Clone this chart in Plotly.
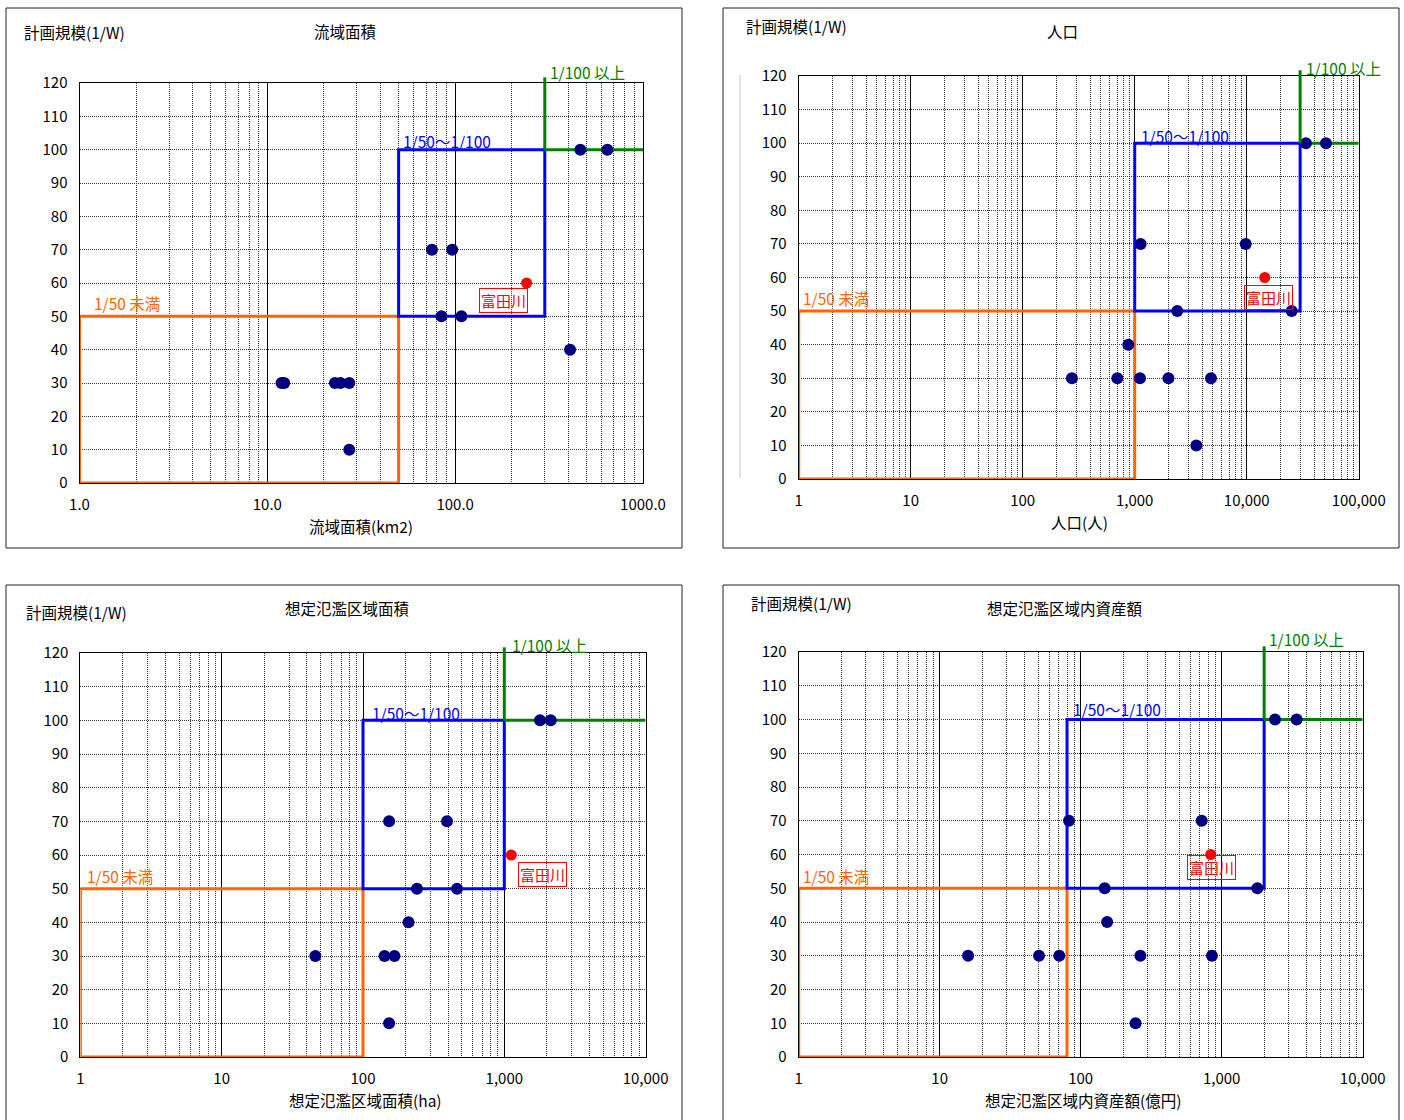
import math
import plotly.graph_objects as go

W, H = 1404, 1120

# ---------------- data ----------------
# 流域面積 (km2) vs 計画規模
area_km2 = [11.9, 12.3, 22.9, 24.5, 27.3, 27.3, 75.2, 96.4, 84.6, 108, 409, 464, 646]
area_scale = [30, 30, 30, 30, 30, 10, 70, 70, 50, 50, 40, 100, 100]
area_tomita = [240]
area_tick_vals = [1, 10, 100, 1000]
area_tick_text = ["1.0", "10.0", "100.0", "1000.0"]

# 人口 (人) vs 計画規模
pop_people = [275, 700, 1115, 2000, 4800, 877, 3550, 2400, 25200, 1130, 9800, 33800, 51000]
pop_scale = [30, 30, 30, 30, 30, 40, 10, 50, 50, 70, 70, 100, 100]
pop_tomita = [14500]
pop_tick_vals = [1, 10, 100, 1000, 10000, 100000]
pop_tick_text = ["1", "10", "100", "1,000", "10,000", "100,000"]

# 想定氾濫区域面積 (ha) vs 計画規模
flood_ha = [46, 142, 167, 210, 153, 241, 463, 153, 393, 1790, 2130]
flood_scale = [30, 30, 30, 40, 10, 50, 50, 70, 70, 100, 100]
flood_tomita = [1120]
flood_tick_vals = [1, 10, 100, 1000, 10000]
flood_tick_text = ["1", "10", "100", "1,000", "10,000"]

# 想定氾濫区域内資産額 (億円) vs 計画規模
asset_oku = [15.9, 50.6, 70.5, 265, 853, 154, 245, 148, 1790, 82.6, 721, 2390, 3400]
asset_scale = [30, 30, 30, 30, 30, 40, 10, 50, 50, 70, 70, 100, 100]
asset_tomita = [836]
asset_tick_vals = [1, 10, 100, 1000, 10000]
asset_tick_text = ["1", "10", "100", "1,000", "10,000"]

tomita_scale = [60]
tomita_name = "富田川"

# class boundaries (x value where each class starts) and scale levels
area_bounds = [50, 300]
pop_bounds = [1000, 30000]
flood_bounds = [100, 1000]
asset_bounds = [80, 2000]
level_50 = 50
level_100 = 100
y_ticks = list(range(0, 121, 10))
y_max = 120

label_lt50 = "1/50 未満"
label_50_100 = "1/50～1/100"
label_ge100 = "1/100 以上"
y_label = "計画規模(1/W)"

# ---------------- styling / layout ----------------
FONT = "Noto Sans CJK JP"
NAVY = "#000080"
RED = "#FF0000"
ORANGE = "#FF6600"
BLUE = "#0000FF"
GREEN = "#008000"
BG = "#FFFFCC"
TXT = 15.5      # chart texts
TICK = 15       # tick labels
ZONE = 15.5     # zone labels
FINE_DOT = "1px,1px"


def px(x):
    return x / W


def py(y):
    return 1 - y / H


panels = [
    dict(x=area_km2, y=area_scale, tx=area_tomita, bounds=area_bounds, xrange=[0, 3],
         tv=area_tick_vals, tt=area_tick_text, title="流域面積", xtitle="流域面積(km2)",
         plot=(79.5, 83, 643, 483), frame=(6, 8, 682, 548),
         ylab=(22, 32), tpos=(345, 31), xtpos=(361, 526),
         tom=(-23, -18), lo=(12, 13), lb=(2, 9), lg=(3, 11)),
    dict(x=pop_people, y=pop_scale, tx=pop_tomita, bounds=pop_bounds, xrange=[0, 5],
         tv=pop_tick_vals, tt=pop_tick_text, title="人口", xtitle="人口(人)",
         plot=(798.7, 76, 1358.7, 479), frame=(723, 8, 1399, 548),
         ylab=(744, 26), tpos=(1062, 31), xtpos=(1079, 522),
         tom=(4, -20), lo=(2, 13), lb=(4, 7), lg=(4, 8)),
    dict(x=flood_ha, y=flood_scale, tx=flood_tomita, bounds=flood_bounds, xrange=[0, 4],
         tv=flood_tick_vals, tt=flood_tick_text, title="想定氾濫区域面積", xtitle="想定氾濫区域面積(ha)",
         plot=(80.4, 653, 645.6, 1057), frame=(6, 585, 682, 1130),
         ylab=(24, 612), tpos=(347, 608), xtpos=(365, 1100),
         tom=(31, -19), lo=(5, 13), lb=(7, 7), lg=(6, 8)),
    dict(x=asset_oku, y=asset_scale, tx=asset_tomita, bounds=asset_bounds, xrange=[0, 4],
         tv=asset_tick_vals, tt=asset_tick_text, title="想定氾濫区域内資産額", xtitle="想定氾濫区域内資産額(億円)",
         plot=(798.7, 652, 1362.7, 1057), frame=(723, 585, 1399, 1130),
         ylab=(749, 603), tpos=(1065, 608), xtpos=(1083, 1100),
         tom=(1, -13), lo=(2, 12), lb=(4, 11), lg=(3, 13)),
]

fig = go.Figure()
shapes = []
annotations = []
layout = dict(
    width=W, height=H,
    margin=dict(l=0, r=0, t=0, b=0, autoexpand=False),
    paper_bgcolor="white",
    plot_bgcolor=BG,
    showlegend=False,
    font=dict(family=FONT, size=TXT, color="black"),
)

for i, p in enumerate(panels):
    n = "" if i == 0 else str(i + 1)
    xa, ya = "x" + n, "y" + n
    l, t, r, b = p["plot"]
    layout["xaxis" + n] = dict(
        type="log", range=p["xrange"], domain=[px(l), px(r)], anchor=ya,
        tickvals=p["tv"], ticktext=p["tt"], ticks="", ticklabelstandoff=8,
        showgrid=True, gridcolor="#000000", gridwidth=1,
        minor=dict(dtick="D1", showgrid=True, gridcolor="#3a3a3a", griddash=FINE_DOT, gridwidth=1, ticks=""),
        showline=True, linecolor="#000000", linewidth=1, mirror=True,
        zeroline=False, automargin=False, tickfont=dict(size=TICK, family=FONT),
    )
    layout["yaxis" + n] = dict(
        range=[0, y_max], domain=[py(b), py(t)], anchor=xa,
        tickvals=y_ticks, ticks="", ticklabelstandoff=8,
        showgrid=True, gridcolor="#3a3a3a", griddash=FINE_DOT, gridwidth=1,
        showline=True, linecolor="#000000", linewidth=1, mirror=True,
        zeroline=False, automargin=False, tickfont=dict(size=TICK, family=FONT),
    )

    # outer chart frame
    fl, ft, fr, fb = p["frame"]
    shapes.append(dict(type="rect", xref="paper", yref="paper", x0=px(fl), x1=px(fr), y0=py(fb), y1=py(ft),
                       line=dict(color="#222222", width=1), fillcolor="white", layer="below"))

    x0 = 10 ** p["xrange"][0]
    x1 = 10 ** p["xrange"][1]
    b50, b100 = p["bounds"]
    # 1/50 未満 zone
    shapes.append(dict(type="rect", xref=xa, yref=ya, x0=x0, x1=b50, y0=0, y1=level_50,
                       line=dict(color=ORANGE, width=3), layer="between"))
    # 1/50～1/100 zone
    shapes.append(dict(type="rect", xref=xa, yref=ya, x0=b50, x1=b100, y0=level_50, y1=level_100,
                       line=dict(color=BLUE, width=3), layer="between"))
    # 1/100 以上 boundary
    shapes.append(dict(type="line", xref=xa, yref=ya, x0=b100, x1=x1, y0=level_100, y1=level_100,
                       line=dict(color=GREEN, width=3), layer="between"))
    shapes.append(dict(type="line", xref=xa, yref=ya + " domain", x0=b100, x1=b100,
                       y0=level_100 / y_max, y1=1.014,
                       line=dict(color=GREEN, width=3), layer="above"))

    fig.add_trace(go.Scatter(x=p["x"], y=p["y"], mode="markers", xaxis=xa, yaxis=ya,
                             marker=dict(color=NAVY, size=12), cliponaxis=False, hoverinfo="x+y"))
    fig.add_trace(go.Scatter(x=p["tx"], y=tomita_scale, mode="markers", xaxis=xa, yaxis=ya,
                             marker=dict(color=RED, size=11), cliponaxis=False, hoverinfo="x+y"))

    # annotations on log axes take log10 positions
    dx, dy = p["tom"]
    annotations.append(dict(x=math.log10(p["tx"][0]), y=tomita_scale[0], xref=xa, yref=ya, text=tomita_name,
                            showarrow=False, xshift=dx, yshift=dy, font=dict(color=RED, size=15),
                            bordercolor=RED, borderwidth=1, borderpad=1))
    ox, oy = p["lo"]
    annotations.append(dict(x=math.log10(x0), y=level_50, xref=xa, yref=ya, text=label_lt50, showarrow=False,
                            xanchor="left", yanchor="middle", xshift=ox, yshift=oy,
                            font=dict(color=ORANGE, size=ZONE)))
    bx, by = p["lb"]
    annotations.append(dict(x=math.log10(b50), y=level_100, xref=xa, yref=ya, text=label_50_100,
                            showarrow=False, xanchor="left", yanchor="middle", xshift=bx, yshift=by,
                            font=dict(color=BLUE, size=ZONE)))
    gx, gy = p["lg"]
    annotations.append(dict(x=math.log10(b100), y=y_max, xref=xa, yref=ya, text=label_ge100,
                            showarrow=False, xanchor="left", yanchor="middle", xshift=gx, yshift=gy,
                            font=dict(color=GREEN, size=ZONE)))

    # chart texts
    annotations.append(dict(x=px(p["ylab"][0]), y=py(p["ylab"][1]), xref="paper", yref="paper",
                            text=y_label, showarrow=False, xanchor="left", yanchor="middle",
                            font=dict(size=TXT)))
    annotations.append(dict(x=px(p["tpos"][0]), y=py(p["tpos"][1]), xref="paper", yref="paper",
                            text=p["title"], showarrow=False, xanchor="center", yanchor="middle",
                            font=dict(size=TXT)))
    annotations.append(dict(x=px(p["xtpos"][0]), y=py(p["xtpos"][1]), xref="paper", yref="paper",
                            text=p["xtitle"], showarrow=False, xanchor="center", yanchor="middle",
                            font=dict(size=TXT)))

# faint guide line at the left of the population chart
shapes.append(dict(type="line", xref="paper", yref="paper", x0=px(740), x1=px(740), y0=py(478), y1=py(75),
                   line=dict(color="#C8C8C8", width=1), layer="above"))

layout["shapes"] = shapes
layout["annotations"] = annotations
fig.update_layout(**layout)
fig.write_html("out.html")
